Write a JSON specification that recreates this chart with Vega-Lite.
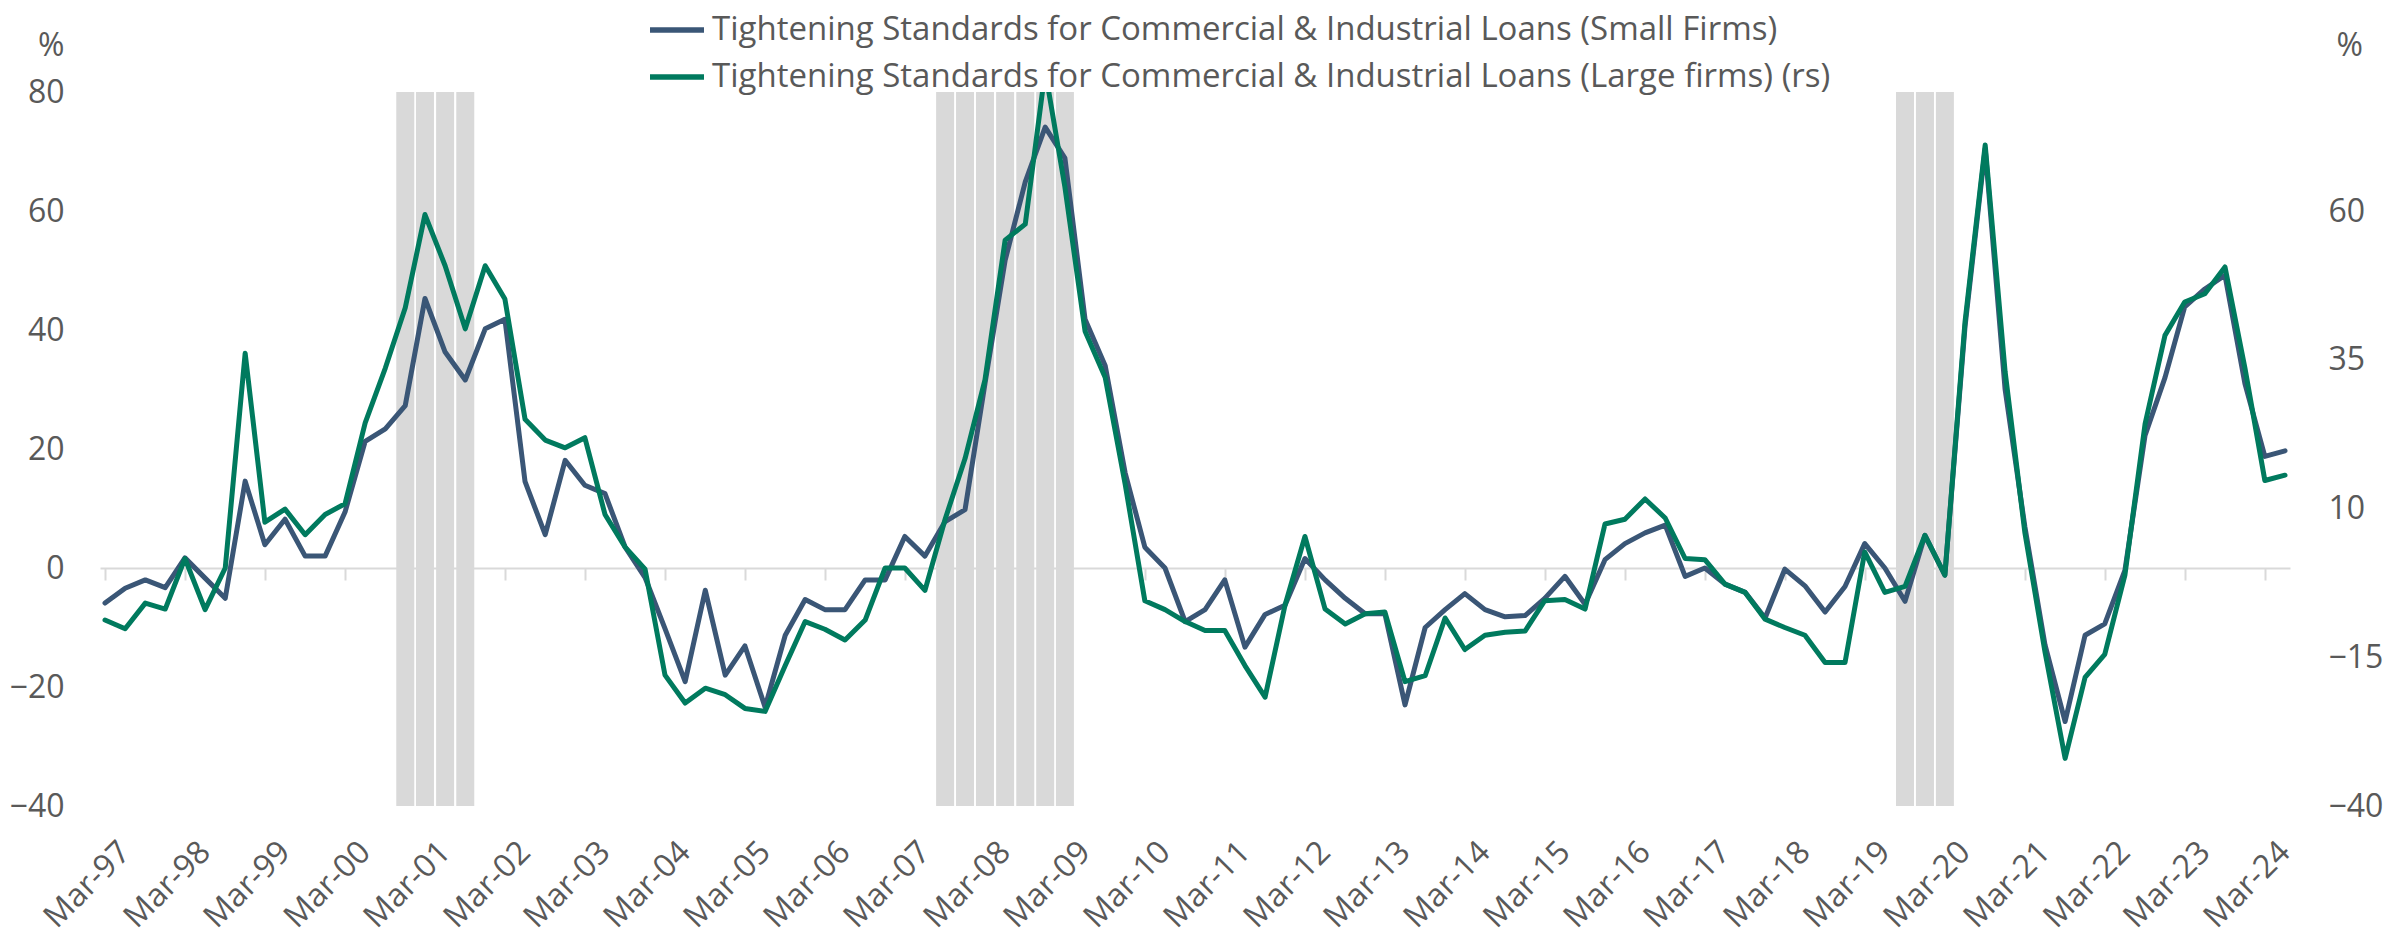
{
  "$schema": "https://vega.github.io/schema/vega-lite/v6.json",
  "width": 2190,
  "height": 714,
  "autosize": {"type": "none"},
  "padding": {"left": 100, "top": 92, "right": 94, "bottom": 131},
  "background": "white",
  "config": {
    "view": {"stroke": null},
    "font": "Open Sans",
    "axis": {"labelFont": "Open Sans", "labelFontSize": 32, "labelColor": "#595959", "titleFont": "Open Sans", "titleFontSize": 32, "titleFontWeight": "normal", "titleColor": "#595959", "grid": false},
    "legend": {"labelFont": "Open Sans", "labelFontSize": 33, "labelColor": "#595959", "symbolType": "stroke", "symbolSize": 2916, "symbolStrokeWidth": 5.5, "labelOffset": 5, "padding": 0, "rowPadding": -2, "labelLimit": 1500}
  },
  "data": {"values": [
    {"date": "1997/03/01", "small": -5.9, "large": -8.75, "rec": 0},
    {"date": "1997/06/01", "small": -3.4, "large": -10.2, "rec": 0},
    {"date": "1997/09/01", "small": -2.0, "large": -5.9, "rec": 0},
    {"date": "1997/12/01", "small": -3.3, "large": -6.9, "rec": 0},
    {"date": "1998/03/01", "small": 1.7, "large": 1.6, "rec": 0},
    {"date": "1998/06/01", "small": -1.7, "large": -7.0, "rec": 0},
    {"date": "1998/09/01", "small": -5.1, "large": 0, "rec": 0},
    {"date": "1998/12/01", "small": 14.6, "large": 36.1, "rec": 0},
    {"date": "1999/03/01", "small": 3.9, "large": 7.7, "rec": 0},
    {"date": "1999/06/01", "small": 8.2, "large": 9.9, "rec": 0},
    {"date": "1999/09/01", "small": 2.0, "large": 5.6, "rec": 0},
    {"date": "1999/12/01", "small": 2.0, "large": 9.0, "rec": 0},
    {"date": "2000/03/01", "small": 9.4, "large": 10.8, "rec": 0},
    {"date": "2000/06/01", "small": 21.3, "large": 24.4, "rec": 0},
    {"date": "2000/09/01", "small": 23.4, "large": 33.6, "rec": 0},
    {"date": "2000/12/01", "small": 27.3, "large": 43.75, "rec": 1},
    {"date": "2001/03/01", "small": 45.3, "large": 59.4, "rec": 1},
    {"date": "2001/06/01", "small": 36.3, "large": 50.8, "rec": 1},
    {"date": "2001/09/01", "small": 31.6, "large": 40.2, "rec": 1},
    {"date": "2001/12/01", "small": 40.2, "large": 50.8, "rec": 0},
    {"date": "2002/03/01", "small": 41.8, "large": 45.2, "rec": 0},
    {"date": "2002/06/01", "small": 14.5, "large": 25.0, "rec": 0},
    {"date": "2002/09/01", "small": 5.6, "large": 21.5, "rec": 0},
    {"date": "2002/12/01", "small": 18.1, "large": 20.2, "rec": 0},
    {"date": "2003/03/01", "small": 13.9, "large": 21.9, "rec": 0},
    {"date": "2003/06/01", "small": 12.5, "large": 9.0, "rec": 0},
    {"date": "2003/09/01", "small": 3.5, "large": 3.5, "rec": 0},
    {"date": "2003/12/01", "small": -1.6, "large": -0.2, "rec": 0},
    {"date": "2004/03/01", "small": -10.2, "large": -18.0, "rec": 0},
    {"date": "2004/06/01", "small": -19.1, "large": -22.7, "rec": 0},
    {"date": "2004/09/01", "small": -3.75, "large": -20.2, "rec": 0},
    {"date": "2004/12/01", "small": -18.0, "large": -21.3, "rec": 0},
    {"date": "2005/03/01", "small": -13.1, "large": -23.6, "rec": 0},
    {"date": "2005/06/01", "small": -23.4, "large": -24.1, "rec": 0},
    {"date": "2005/09/01", "small": -11.3, "large": -16.4, "rec": 0},
    {"date": "2005/12/01", "small": -5.3, "large": -9.0, "rec": 0},
    {"date": "2006/03/01", "small": -7.0, "large": -10.3, "rec": 0},
    {"date": "2006/06/01", "small": -7.0, "large": -12.1, "rec": 0},
    {"date": "2006/09/01", "small": -2.0, "large": -8.75, "rec": 0},
    {"date": "2006/12/01", "small": -2.0, "large": 0, "rec": 0},
    {"date": "2007/03/01", "small": 5.3, "large": 0, "rec": 0},
    {"date": "2007/06/01", "small": 2.0, "large": -3.75, "rec": 0},
    {"date": "2007/09/01", "small": 7.8, "large": 8.2, "rec": 1},
    {"date": "2007/12/01", "small": 9.8, "large": 18.4, "rec": 1},
    {"date": "2008/03/01", "small": 31.0, "large": 31.6, "rec": 1},
    {"date": "2008/06/01", "small": 51.7, "large": 55.1, "rec": 1},
    {"date": "2008/09/01", "small": 64.9, "large": 57.8, "rec": 1},
    {"date": "2008/12/01", "small": 74.1, "large": 83.6, "rec": 1},
    {"date": "2009/03/01", "small": 68.9, "large": 64.0, "rec": 1},
    {"date": "2009/06/01", "small": 41.8, "large": 39.8, "rec": 0},
    {"date": "2009/09/01", "small": 34.0, "large": 32.0, "rec": 0},
    {"date": "2009/12/01", "small": 16.0, "large": 14.1, "rec": 0},
    {"date": "2010/03/01", "small": 3.5, "large": -5.5, "rec": 0},
    {"date": "2010/06/01", "small": 0, "large": -7.0, "rec": 0},
    {"date": "2010/09/01", "small": -9.0, "large": -9.0, "rec": 0},
    {"date": "2010/12/01", "small": -7.0, "large": -10.5, "rec": 0},
    {"date": "2011/03/01", "small": -2.0, "large": -10.5, "rec": 0},
    {"date": "2011/06/01", "small": -13.3, "large": -16.4, "rec": 0},
    {"date": "2011/09/01", "small": -7.8, "large": -21.7, "rec": 0},
    {"date": "2011/12/01", "small": -6.25, "large": -6.25, "rec": 0},
    {"date": "2012/03/01", "small": 1.6, "large": 5.3, "rec": 0},
    {"date": "2012/06/01", "small": -2.0, "large": -6.9, "rec": 0},
    {"date": "2012/09/01", "small": -5.1, "large": -9.4, "rec": 0},
    {"date": "2012/12/01", "small": -7.7, "large": -7.7, "rec": 0},
    {"date": "2013/03/01", "small": -7.7, "large": -7.4, "rec": 0},
    {"date": "2013/06/01", "small": -23.0, "large": -19.1, "rec": 0},
    {"date": "2013/09/01", "small": -10.0, "large": -18.1, "rec": 0},
    {"date": "2013/12/01", "small": -7.0, "large": -8.4, "rec": 0},
    {"date": "2014/03/01", "small": -4.3, "large": -13.7, "rec": 0},
    {"date": "2014/06/01", "small": -7.0, "large": -11.3, "rec": 0},
    {"date": "2014/09/01", "small": -8.2, "large": -10.8, "rec": 0},
    {"date": "2014/12/01", "small": -8.0, "large": -10.6, "rec": 0},
    {"date": "2015/03/01", "small": -5.1, "large": -5.5, "rec": 0},
    {"date": "2015/06/01", "small": -1.4, "large": -5.3, "rec": 0},
    {"date": "2015/09/01", "small": -6.1, "large": -6.9, "rec": 0},
    {"date": "2015/12/01", "small": 1.4, "large": 7.4, "rec": 0},
    {"date": "2016/03/01", "small": 4.1, "large": 8.2, "rec": 0},
    {"date": "2016/06/01", "small": 5.9, "large": 11.6, "rec": 0},
    {"date": "2016/09/01", "small": 7.2, "large": 8.4, "rec": 0},
    {"date": "2016/12/01", "small": -1.4, "large": 1.6, "rec": 0},
    {"date": "2017/03/01", "small": 0, "large": 1.4, "rec": 0},
    {"date": "2017/06/01", "small": -2.7, "large": -2.7, "rec": 0},
    {"date": "2017/09/01", "small": -4.1, "large": -4.1, "rec": 0},
    {"date": "2017/12/01", "small": -8.4, "large": -8.6, "rec": 0},
    {"date": "2018/03/01", "small": -0.2, "large": -10.0, "rec": 0},
    {"date": "2018/06/01", "small": -3.0, "large": -11.3, "rec": 0},
    {"date": "2018/09/01", "small": -7.4, "large": -15.9, "rec": 0},
    {"date": "2018/12/01", "small": -3.1, "large": -15.9, "rec": 0},
    {"date": "2019/03/01", "small": 4.1, "large": 2.7, "rec": 0},
    {"date": "2019/06/01", "small": 0, "large": -4.1, "rec": 0},
    {"date": "2019/09/01", "small": -5.6, "large": -3.1, "rec": 1},
    {"date": "2019/12/01", "small": 5.5, "large": 5.5, "rec": 1},
    {"date": "2020/03/01", "small": -1.2, "large": -1.2, "rec": 1},
    {"date": "2020/06/01", "small": 40.6, "large": 41.4, "rec": 0},
    {"date": "2020/09/01", "small": 70.5, "large": 71.1, "rec": 0},
    {"date": "2020/12/01", "small": 30.0, "large": 33.0, "rec": 0},
    {"date": "2021/03/01", "small": 7.0, "large": 6.0, "rec": 0},
    {"date": "2021/06/01", "small": -12.9, "large": -14.1, "rec": 0},
    {"date": "2021/09/01", "small": -25.8, "large": -32.0, "rec": 0},
    {"date": "2021/12/01", "small": -11.3, "large": -18.4, "rec": 0},
    {"date": "2022/03/01", "small": -9.4, "large": -14.5, "rec": 0},
    {"date": "2022/06/01", "small": -0.4, "large": -1.2, "rec": 0},
    {"date": "2022/09/01", "small": 22.3, "large": 24.2, "rec": 0},
    {"date": "2022/12/01", "small": 32.0, "large": 39.1, "rec": 0},
    {"date": "2023/03/01", "small": 43.9, "large": 44.7, "rec": 0},
    {"date": "2023/06/01", "small": 46.9, "large": 46.1, "rec": 0},
    {"date": "2023/09/01", "small": 49.2, "large": 50.6, "rec": 0},
    {"date": "2023/12/01", "small": 31.0, "large": 33.6, "rec": 0},
    {"date": "2024/03/01", "small": 18.75, "large": 14.7, "rec": 0},
    {"date": "2024/06/01", "small": 19.7, "large": 15.6, "rec": 0}
  ]},
  "encoding": {
    "x": {
      "field": "date",
      "type": "temporal",
      "scale": {"domain": [{"year": 1997, "month": 3, "date": 1}, {"year": 2024, "month": 6, "date": 1}], "nice": false},
      "axis": {
        "title": null,
        "format": "%b-%y",
        "values": [
          {"year": 1997, "month": 3, "date": 1}, {"year": 1998, "month": 3, "date": 1}, {"year": 1999, "month": 3, "date": 1}, {"year": 2000, "month": 3, "date": 1},
          {"year": 2001, "month": 3, "date": 1}, {"year": 2002, "month": 3, "date": 1}, {"year": 2003, "month": 3, "date": 1}, {"year": 2004, "month": 3, "date": 1},
          {"year": 2005, "month": 3, "date": 1}, {"year": 2006, "month": 3, "date": 1}, {"year": 2007, "month": 3, "date": 1}, {"year": 2008, "month": 3, "date": 1},
          {"year": 2009, "month": 3, "date": 1}, {"year": 2010, "month": 3, "date": 1}, {"year": 2011, "month": 3, "date": 1}, {"year": 2012, "month": 3, "date": 1},
          {"year": 2013, "month": 3, "date": 1}, {"year": 2014, "month": 3, "date": 1}, {"year": 2015, "month": 3, "date": 1}, {"year": 2016, "month": 3, "date": 1},
          {"year": 2017, "month": 3, "date": 1}, {"year": 2018, "month": 3, "date": 1}, {"year": 2019, "month": 3, "date": 1}, {"year": 2020, "month": 3, "date": 1},
          {"year": 2021, "month": 3, "date": 1}, {"year": 2022, "month": 3, "date": 1}, {"year": 2023, "month": 3, "date": 1}, {"year": 2024, "month": 3, "date": 1}
        ],
        "labelAngle": -45,
        "labelAlign": "right",
        "labelBaseline": "top",
        "offset": -238,
        "labelPadding": 256,
        "labelOffset": 9,
        "tickSize": 12,
        "tickColor": "#d9d9d9",
        "tickWidth": 2,
        "domainColor": "#d9d9d9",
        "domainWidth": 2,
        "labelOverlap": false,
        "labelBound": false,
        "labelFlush": false
      }
    }
  },
  "layer": [
    {
      "layer": [
        {
          "transform": [{"filter": "datum.rec == 1"}],
          "mark": {"type": "bar", "size": 18, "color": "#d9d9d9"},
          "encoding": {
            "y": {"datum": 80, "type": "quantitative", "scale": {"domain": [-40, 80], "nice": false, "zero": false},
              "axis": {"values": [-40, -20, 0, 20, 40, 60, 80], "ticks": false, "domain": false, "labelPadding": 36, "title": "%", "titleAngle": 0, "titleAlign": "right", "titleBaseline": "middle", "titleX": -36, "titleY": -47}},
            "y2": {"datum": -40}
          }
        },
        {
          "mark": {"type": "line", "strokeWidth": 5, "strokeJoin": "round", "strokeCap": "round", "clip": true},
          "encoding": {
            "y": {"field": "small", "type": "quantitative", "scale": {"domain": [-40, 80], "nice": false, "zero": false},
              "axis": {"values": [-40, -20, 0, 20, 40, 60, 80], "ticks": false, "domain": false, "labelPadding": 36, "title": "%", "titleAngle": 0, "titleAlign": "right", "titleBaseline": "middle", "titleX": -36, "titleY": -47}},
            "color": {
              "datum": "Tightening Standards for Commercial & Industrial Loans (Small Firms)",
              "scale": {
                "domain": ["Tightening Standards for Commercial & Industrial Loans (Small Firms)", "Tightening Standards for Commercial & Industrial Loans (Large firms) (rs)"],
                "range": ["#3A5676", "#007A5E"]
              },
              "legend": {"orient": "none", "legendX": 547, "legendY": -92, "direction": "vertical", "title": null}
            }
          }
        }
      ]
    },
    {
      "mark": {"type": "line", "strokeWidth": 5, "strokeJoin": "round", "strokeCap": "round", "clip": true},
      "encoding": {
        "y": {"field": "large", "type": "quantitative", "scale": {"domain": [-40, 80], "nice": false, "zero": false},
          "axis": {"orient": "right", "values": [-40, -15, 10, 35, 60], "ticks": false, "domain": false, "labelPadding": 38, "title": "%", "titleAngle": 0, "titleAlign": "left", "titleBaseline": "middle", "titleX": 46, "titleY": -47}},
        "color": {"datum": "Tightening Standards for Commercial & Industrial Loans (Large firms) (rs)"}
      }
    }
  ],
  "resolve": {"scale": {"y": "independent"}}
}
